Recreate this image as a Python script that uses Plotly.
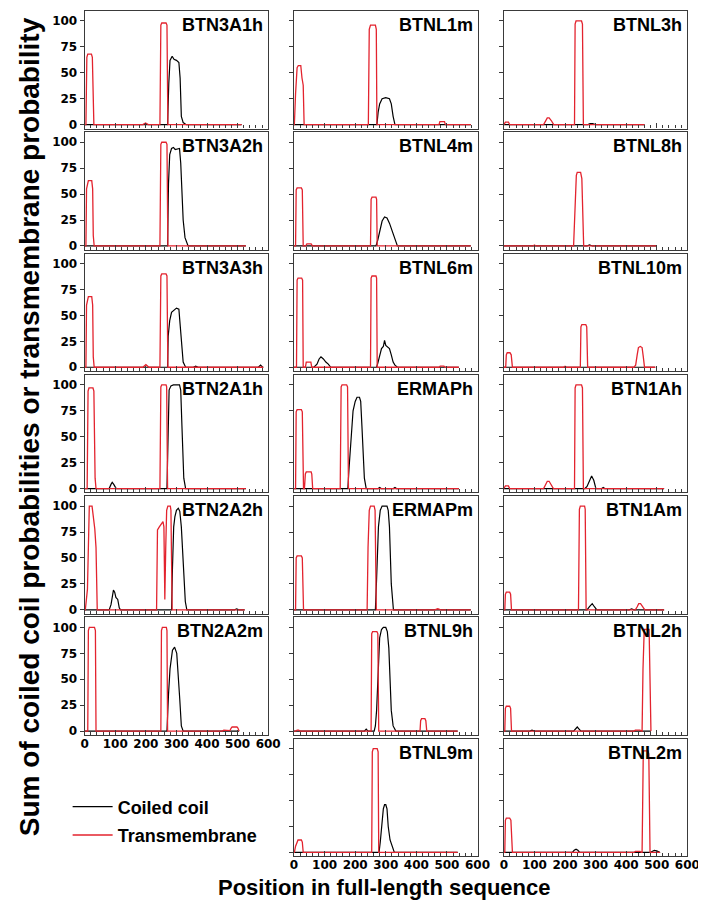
import plotly.graph_objects as go

# ---- data: positions (aa) and probability (%) ----
# column 1
BTN3A1h_cc_x = [0, 271, 275, 279, 286, 292, 300, 308, 312, 316, 322, 332, 513]
BTN3A1h_cc_y = [0, 0, 40, 62, 66, 63, 62, 60, 45, 8, 2, 0, 0]
BTN3A1h_tm_x = [0, 4, 7, 10, 22, 25, 30, 190, 199, 208, 246, 249, 252, 266, 269, 272, 513]
BTN3A1h_tm_y = [0, 0, 65, 68, 68, 65, 0, 0, 1.5, 0, 0, 96, 98, 98, 96, 0, 0]

BTN3A2h_cc_x = [0, 271, 274, 278, 284, 290, 296, 310, 314, 318, 322, 328, 338, 527]
BTN3A2h_cc_y = [0, 0, 60, 88, 94, 95, 93, 94, 80, 50, 25, 8, 0, 0]
BTN3A2h_tm_x = [0, 4, 6, 12, 23, 26, 28, 31, 246, 249, 252, 266, 269, 272, 527]
BTN3A2h_tm_y = [0, 0, 55, 63, 63, 55, 10, 0, 0, 98, 100, 100, 98, 0, 0]

BTN3A3h_cc_x = [0, 271, 273, 278, 284, 292, 300, 308, 312, 316, 322, 330, 355, 363, 371, 568, 575, 582, 584]
BTN3A3h_cc_y = [0, 0, 30, 45, 53, 55, 57, 56, 40, 20, 5, 0, 0, 1, 0, 0, 2, 0, 0]
BTN3A3h_tm_x = [0, 4, 6, 12, 23, 26, 28, 31, 190, 200, 210, 246, 249, 252, 266, 269, 272, 584]
BTN3A3h_tm_y = [0, 0, 60, 68, 68, 60, 10, 0, 0, 2.5, 0, 0, 88, 90, 90, 88, 0, 0]

BTN2A1h_cc_x = [0, 80, 86, 90, 95, 103, 269, 271, 276, 282, 290, 310, 314, 318, 324, 330, 527]
BTN2A1h_cc_y = [0, 0, 4, 6, 4, 0, 0, 30, 95, 99, 100, 100, 95, 60, 10, 0, 0]
BTN2A1h_tm_x = [0, 8, 11, 14, 27, 30, 34, 37, 246, 249, 252, 266, 268, 271, 527]
BTN2A1h_tm_y = [0, 0, 94, 97, 97, 94, 10, 0, 0, 98, 100, 100, 98, 0, 0]

BTN2A2h_cc_x = [0, 80, 86, 90, 94, 98, 102, 108, 113, 117, 284, 287, 291, 295, 300, 306, 311, 316,
                320, 324, 329, 334, 490, 497, 504, 523]
BTN2A2h_cc_y = [0, 0, 5, 15, 19, 17, 12, 10, 2, 0, 0, 40, 80, 90, 96, 98, 95, 80,
                55, 30, 8, 0, 0, 1, 0, 0]
BTN2A2h_tm_x = [0, 2, 9, 12, 15, 24, 28, 33, 37, 39, 41, 235, 238, 244, 250, 256, 259, 262, 265,
                268, 272, 280, 282, 286, 523]
BTN2A2h_tm_y = [0, 0, 20, 50, 100, 100, 92, 78, 60, 10, 0, 0, 77, 80, 82, 85, 80, 10, 60,
                96, 100, 100, 96, 0, 0]

BTN2A2m_cc_x = [0, 269, 274, 279, 287, 294, 301, 306, 311, 316, 322, 505]
BTN2A2m_cc_y = [0, 0, 35, 60, 78, 81, 75, 55, 30, 5, 0, 0]
BTN2A2m_tm_x = [0, 10, 12, 15, 32, 35, 37, 249, 251, 254, 267, 269, 271, 450, 455, 470, 475, 479,
                482, 498, 501, 505]
BTN2A2m_tm_y = [0, 0, 97, 100, 100, 97, 0, 0, 97, 100, 100, 97, 0, 0, 1, 1, 0.5, 3,
                4, 4, 3, 0]

# column 2
BTNL1m_cc_x = [0, 271, 275, 280, 288, 300, 312, 318, 324, 330, 578]
BTNL1m_cc_y = [0, 0, 12, 20, 25, 26, 25, 20, 8, 0, 0]
BTNL1m_tm_x = [0, 1, 5, 10, 14, 22, 26, 30, 33, 243, 246, 250, 266, 269, 271, 474, 477, 492, 495, 578]
BTNL1m_tm_y = [0, 0, 30, 55, 57, 57, 45, 38, 0, 0, 92, 96, 96, 92, 0, 0, 3, 3, 0, 0]

BTNL4m_cc_x = [0, 268, 274, 280, 288, 296, 304, 312, 320, 330, 338, 578]
BTNL4m_cc_y = [0, 0, 6, 15, 24, 28, 27, 22, 15, 5, 0, 0]
BTNL4m_tm_x = [0, 5, 7, 10, 24, 27, 30, 38, 42, 56, 60, 250, 252, 255, 268, 270, 272, 578]
BTNL4m_tm_y = [0, 0, 54, 56, 56, 54, 0, 0, 2, 2, 0, 0, 45, 47, 47, 45, 0, 0]

BTNL6m_cc_x = [0, 65, 75, 82, 88, 96, 104, 112, 120, 270, 274, 280, 286, 292, 296, 300, 306, 312,
               318, 324, 330, 338, 539]
BTNL6m_cc_y = [0, 0, 3, 8, 10, 8, 5, 3, 0, 0, 4, 10, 18, 20, 26, 21, 19, 18,
               12, 5, 2, 0, 0]
BTNL6m_tm_x = [0, 8, 10, 13, 25, 28, 30, 37, 40, 55, 58, 250, 252, 255, 268, 270, 272, 474, 478,
               490, 494, 539]
BTNL6m_tm_y = [0, 0, 84, 86, 86, 84, 0, 0, 5, 5, 0, 0, 86, 88, 88, 86, 0, 0, 1,
               1, 0, 0]

ERMAPh_cc_x = [0, 176, 180, 186, 193, 200, 206, 214, 218, 222, 226, 230, 236, 275, 280, 285,
               325, 330, 335, 539]
ERMAPh_cc_y = [0, 0, 20, 50, 75, 84, 88, 88, 84, 60, 35, 10, 0, 0, 1, 0,
               0, 1, 0, 0]
ERMAPh_tm_x = [0, 5, 7, 10, 24, 27, 31, 34, 37, 40, 56, 58, 61, 151, 154, 157, 172, 175, 178, 539]
ERMAPh_tm_y = [0, 0, 74, 76, 76, 74, 0, 0, 14, 16, 16, 14, 0, 0, 98, 100, 100, 98, 0, 0]

ERMAPm_cc_x = [0, 266, 270, 276, 282, 288, 304, 308, 312, 318, 325, 578]
ERMAPm_cc_y = [0, 0, 30, 80, 96, 100, 100, 96, 80, 25, 0, 0]
ERMAPm_tm_x = [0, 5, 7, 10, 24, 27, 31, 239, 242, 246, 250, 262, 265, 269, 460, 470, 480, 578]
ERMAPm_tm_y = [0, 0, 50, 52, 52, 50, 0, 0, 60, 96, 100, 100, 96, 0, 0, 1, 0, 0]

BTNL9h_cc_x = [0, 230, 236, 242, 262, 266, 270, 275, 280, 286, 292, 300, 305, 310, 314, 318, 324,
               333, 535]
BTNL9h_cc_y = [0, 0, 2, 0, 0, 5, 20, 60, 90, 98, 100, 100, 96, 80, 45, 20, 5,
               0, 0]
BTNL9h_tm_x = [0, 6, 10, 15, 20, 252, 254, 257, 271, 274, 277, 412, 414, 417, 428, 431, 434, 535]
BTNL9h_tm_y = [0, 0, 1, 1, 0, 0, 94, 96, 96, 94, 0, 0, 10, 12, 12, 10, 0, 0]

BTNL9m_cc_x = [0, 278, 282, 287, 292, 296, 300, 304, 308, 314, 320, 328, 535]
BTNL9m_cc_y = [0, 0, 10, 30, 42, 46, 46, 42, 25, 12, 6, 0, 0]
BTNL9m_tm_x = [0, 1, 5, 10, 13, 24, 27, 30, 254, 256, 259, 272, 275, 277, 535]
BTNL9m_tm_y = [0, 0, 6, 10, 12, 12, 10, 0, 0, 97, 100, 100, 97, 0, 0]

# column 3
BTNL3h_cc_x = [0, 275, 282, 290, 300, 460]
BTNL3h_cc_y = [0, 0, 1, 1, 0, 0]
BTNL3h_tm_x = [0, 2, 5, 15, 19, 130, 136, 142, 148, 155, 163, 231, 233, 236, 254, 257, 260, 460]
BTNL3h_tm_y = [0, 2, 2.5, 2.5, 0, 0, 4, 6.5, 6.5, 4, 0, 0, 97, 100, 100, 97, 0, 0]

BTNL8h_cc_x = [0, 272, 280, 290, 498]
BTNL8h_cc_y = [0, 0, 1, 0, 0]
BTNL8h_tm_x = [0, 95, 100, 105, 228, 231, 237, 240, 251, 255, 258, 261, 498]
BTNL8h_tm_y = [0, 0, 1, 0, 0, 20, 68, 71, 71, 65, 20, 0, 0]

BTNL10m_cc_x = [0, 495]
BTNL10m_cc_y = [0, 0]
BTNL10m_tm_x = [0, 6, 8, 11, 20, 24, 28, 195, 200, 205, 250, 252, 255, 268, 271, 274, 425, 431,
                436, 440, 446, 452, 456, 460, 495]
BTNL10m_tm_y = [0, 0, 12, 14, 14, 12, 0, 0, 1, 0, 0, 39, 41, 41, 39, 0, 0, 2,
                12, 19, 20, 19, 10, 0, 0]

BTN1Ah_cc_x = [0, 265, 272, 280, 287, 294, 301, 320, 325, 330, 524]
BTN1Ah_cc_y = [0, 0, 2, 8, 12, 8, 0, 0, 1, 0, 0]
BTN1Ah_tm_x = [0, 2, 5, 15, 19, 130, 136, 142, 148, 155, 162, 231, 233, 236, 254, 257, 260, 524]
BTN1Ah_tm_y = [0, 2, 2.5, 2.5, 0, 0, 4, 7, 7, 4, 0, 0, 97, 100, 100, 97, 0, 0]

BTN1Am_cc_x = [0, 272, 280, 289, 296, 304, 410, 418, 425, 524]
BTN1Am_cc_y = [0, 0, 3, 6, 3, 0, 0, 1, 0, 0]
BTN1Am_tm_x = [0, 3, 5, 8, 19, 22, 25, 244, 247, 250, 264, 266, 269, 430, 436, 441, 447, 453, 461, 524]
BTN1Am_tm_y = [0, 0, 15, 17, 17, 15, 0, 0, 97, 100, 100, 97, 0, 0, 3, 6, 6, 3, 0, 0]

BTNL2h_cc_x = [0, 85, 92, 100, 228, 234, 240, 246, 252, 481]
BTNL2h_cc_y = [0, 0, 1, 0, 0, 2, 4, 2, 0, 0]
BTNL2h_tm_x = [0, 3, 5, 8, 19, 22, 25, 425, 430, 445, 450, 452, 455, 459, 475, 478, 481]
BTNL2h_tm_y = [0, 0, 22, 24, 24, 22, 0, 0, 1, 1, 0, 0, 60, 98, 98, 60, 0]

BTNL2m_cc_x = [0, 224, 230, 236, 242, 248, 478, 484, 492, 500, 508, 511]
BTNL2m_cc_y = [0, 0, 2, 3, 2, 0, 0, 1, 2, 1.5, 0, 0]
BTNL2m_tm_x = [0, 3, 5, 8, 19, 23, 28, 425, 430, 445, 450, 452, 456, 471, 474, 478, 511]
BTNL2m_tm_y = [0, 0, 31, 33, 33, 31, 0, 0, 1, 1, 0, 0, 98, 98, 95, 0, 0]

x_ticks = [0, 100, 200, 300, 400, 500, 600]
y_ticks = [0, 25, 50, 75, 100]

# (name, column, row, cc_x, cc_y, tm_x, tm_y)
panels = [
    ("BTN3A1h", 0, 0, BTN3A1h_cc_x, BTN3A1h_cc_y, BTN3A1h_tm_x, BTN3A1h_tm_y),
    ("BTN3A2h", 0, 1, BTN3A2h_cc_x, BTN3A2h_cc_y, BTN3A2h_tm_x, BTN3A2h_tm_y),
    ("BTN3A3h", 0, 2, BTN3A3h_cc_x, BTN3A3h_cc_y, BTN3A3h_tm_x, BTN3A3h_tm_y),
    ("BTN2A1h", 0, 3, BTN2A1h_cc_x, BTN2A1h_cc_y, BTN2A1h_tm_x, BTN2A1h_tm_y),
    ("BTN2A2h", 0, 4, BTN2A2h_cc_x, BTN2A2h_cc_y, BTN2A2h_tm_x, BTN2A2h_tm_y),
    ("BTN2A2m", 0, 5, BTN2A2m_cc_x, BTN2A2m_cc_y, BTN2A2m_tm_x, BTN2A2m_tm_y),
    ("BTNL1m", 1, 0, BTNL1m_cc_x, BTNL1m_cc_y, BTNL1m_tm_x, BTNL1m_tm_y),
    ("BTNL4m", 1, 1, BTNL4m_cc_x, BTNL4m_cc_y, BTNL4m_tm_x, BTNL4m_tm_y),
    ("BTNL6m", 1, 2, BTNL6m_cc_x, BTNL6m_cc_y, BTNL6m_tm_x, BTNL6m_tm_y),
    ("ERMAPh", 1, 3, ERMAPh_cc_x, ERMAPh_cc_y, ERMAPh_tm_x, ERMAPh_tm_y),
    ("ERMAPm", 1, 4, ERMAPm_cc_x, ERMAPm_cc_y, ERMAPm_tm_x, ERMAPm_tm_y),
    ("BTNL9h", 1, 5, BTNL9h_cc_x, BTNL9h_cc_y, BTNL9h_tm_x, BTNL9h_tm_y),
    ("BTNL9m", 1, 6, BTNL9m_cc_x, BTNL9m_cc_y, BTNL9m_tm_x, BTNL9m_tm_y),
    ("BTNL3h", 2, 0, BTNL3h_cc_x, BTNL3h_cc_y, BTNL3h_tm_x, BTNL3h_tm_y),
    ("BTNL8h", 2, 1, BTNL8h_cc_x, BTNL8h_cc_y, BTNL8h_tm_x, BTNL8h_tm_y),
    ("BTNL10m", 2, 2, BTNL10m_cc_x, BTNL10m_cc_y, BTNL10m_tm_x, BTNL10m_tm_y),
    ("BTN1Ah", 2, 3, BTN1Ah_cc_x, BTN1Ah_cc_y, BTN1Ah_tm_x, BTN1Ah_tm_y),
    ("BTN1Am", 2, 4, BTN1Am_cc_x, BTN1Am_cc_y, BTN1Am_tm_x, BTN1Am_tm_y),
    ("BTNL2h", 2, 5, BTNL2h_cc_x, BTNL2h_cc_y, BTNL2h_tm_x, BTNL2h_tm_y),
    ("BTNL2m", 2, 6, BTNL2m_cc_x, BTNL2m_cc_y, BTNL2m_tm_x, BTNL2m_tm_y),
]

# ---- layout geometry (pixels) ----
W, H = 706, 900
FONT = "Liberation Sans, Arial, Helvetica, sans-serif"
TICKFONT = "DejaVu Sans, Liberation Sans, sans-serif"
RED = "#e3232e"
FRAME = "#3a3a3a"
col_left = [74.5, 289, 504]
col_w = 188
row_top0, row_step, row_h = 3, 121.7, 118

fig = go.Figure()
layout = {}
annotations = []

for k, (name, col, row, ccx, ccy, tmx, tmy) in enumerate(panels, start=1):
    sfx = "" if k == 1 else str(k)
    fig.add_trace(go.Scatter(
        x=ccx, y=ccy, xaxis="x" + sfx, yaxis="y" + sfx, mode="lines",
        line=dict(color="black", width=1.2),
        name="Coiled coil", legendgroup="cc", showlegend=(k == 1),
    ))
    fig.add_trace(go.Scatter(
        x=tmx, y=tmy, xaxis="x" + sfx, yaxis="y" + sfx, mode="lines",
        line=dict(color=RED, width=1.3),
        name="Transmembrane", legendgroup="tm", showlegend=(k == 1),
    ))

    left = col_left[col]
    right = left + col_w
    top = row_top0 + row * row_step
    bottom = top + row_h
    bottom_panel = (col == 0 and row == 5) or (col > 0 and row == 6)

    layout["xaxis" + sfx] = dict(
        domain=[left / W, right / W], anchor="y" + sfx, range=[0, 600],
        tickmode="array", tickvals=x_ticks, ticks="inside", ticklen=5,
        tickcolor=FRAME, tickwidth=1,
        minor=dict(dtick=20, tick0=0, ticks="inside", ticklen=3, tickcolor=FRAME),
        showticklabels=bottom_panel, ticklabelstandoff=-3,
        tickfont=dict(family=TICKFONT, size=12, color="black", weight="bold"),
        showline=True, mirror=True, linecolor=FRAME, linewidth=1.2,
        showgrid=False, zeroline=False,
    )
    layout["yaxis" + sfx] = dict(
        domain=[1 - bottom / H, 1 - top / H], anchor="x" + sfx, range=[-3.8, 109.6],
        tickmode="array", tickvals=y_ticks, ticks="outside", ticklen=4,
        tickcolor=FRAME, tickwidth=1,
        showticklabels=(col == 0),
        tickfont=dict(family=TICKFONT, size=12, color="black", weight="bold"),
        showline=True, mirror=True, linecolor=FRAME, linewidth=1.2,
        showgrid=False, zeroline=False,
    )
    annotations.append(dict(
        text=name, xref="paper", yref="paper",
        x=(right - 3) / W, y=1 - (top + 14) / H, xanchor="right", yanchor="middle",
        showarrow=False, font=dict(family=FONT, size=18, color="black", weight="bold"),
    ))

annotations.append(dict(
    text="Sum of coiled coil probabilities or transmembrane probability",
    xref="paper", yref="paper", x=18 / W, y=1 - 420 / H, textangle=-90,
    xanchor="center", yanchor="middle", showarrow=False,
    font=dict(family=FONT, size=28, color="black", weight="bold"),
))
annotations.append(dict(
    text="Position in full-length sequence",
    xref="paper", yref="paper", x=381 / W, y=1 - 882 / H,
    xanchor="center", yanchor="middle", showarrow=False,
    font=dict(family=FONT, size=22, color="black", weight="bold"),
))

fig.update_layout(
    **layout,
    annotations=annotations,
    width=W, height=H,
    margin=dict(l=0, r=0, t=0, b=0),
    paper_bgcolor="white", plot_bgcolor="white",
    showlegend=True,
    legend=dict(
        x=57 / W, y=1 - 783 / H, xanchor="left", yanchor="top",
        traceorder="grouped", tracegroupgap=2, itemwidth=40,
        font=dict(family=FONT, size=18, color="black", weight="bold"),
        bgcolor="rgba(0,0,0,0)",
    ),
)

fig.write_html("out.html")
